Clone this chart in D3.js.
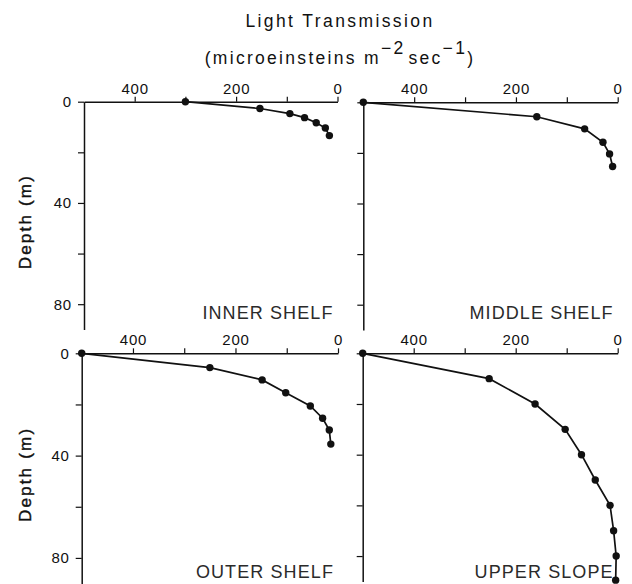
<!DOCTYPE html>
<html>
<head>
<meta charset="utf-8">
<script src="https://cdn.jsdelivr.net/npm/d3@7"></script>
<style>
  body { margin: 0; background: #fff; }
  svg { display: block; }
  text { font-family: "Liberation Sans", Arial, sans-serif; fill: #111; }
</style>
</head>
<body>
<svg id="chart" width="632" height="584"></svg>
<script>
// values: light (microeinsteins m-2 sec-1) vs depth (m)
const stations = ['INNER SHELF', 'MIDDLE SHELF', 'OUTER SHELF', 'UPPER SLOPE'];
const innerLight  = [300, 153, 94, 65, 42, 24, 16];
const innerDepth  = [0, 2.7, 4.7, 6.3, 8.3, 10.4, 13.4];
const middleLight = [500, 159, 65, 29, 16, 10];
const middleDepth = [0, 5.7, 10.5, 15.8, 20.4, 25.4];
const outerLight  = [500, 250, 148, 102, 54, 30, 17, 14];
const outerDepth  = [0, 5.6, 10.4, 15.4, 20.6, 25.4, 30, 35.5];
const slopeLight  = [500, 252, 162, 103, 71, 44, 15, 8, 3, 4];
const slopeDepth  = [0, 10, 20, 30, 40, 50, 60, 70, 80, 89.5];

const xTicks = [400, 300, 200, 100, 0];
const xLabels = [400, 200, 0];
const yTicks = [0, 20, 40, 60, 80];
const yLabels = [0, 40, 80];

const series = [
  [innerLight, innerDepth],
  [middleLight, middleDepth],
  [outerLight, outerDepth],
  [slopeLight, slopeDepth]
];

// panel frames in pixels
const frames = [
  { left: 84,    right: 337.5, top: 101.7, bottom: 329.5, yLab: true },
  { left: 363.3, right: 617.7, top: 102.3, bottom: 330,   yLab: false },
  { left: 81.7,  right: 338,   top: 353.3, bottom: 583.5, yLab: true },
  { left: 362.7, right: 617.7, top: 353.3, bottom: 581.4, yLab: false }
];

const svg = d3.select('#chart');

// title
svg.append('text')
  .attr('x', 340).attr('y', 27)
  .attr('text-anchor', 'middle')
  .style('font-size', '17.5px')
  .style('letter-spacing', '2.4px')
  .text('Light Transmission');

const sub = svg.append('text')
  .attr('x', 340).attr('y', 64)
  .attr('text-anchor', 'middle')
  .style('font-size', '17.5px')
  .style('letter-spacing', '2.3px');
sub.append('tspan').text('(microeinsteins m');
sub.append('tspan').attr('dy', -10).text('\u22122');
sub.append('tspan').attr('dy', 10).attr('dx', 3).text('sec');
sub.append('tspan').attr('dy', -10).text('\u22121');
sub.append('tspan').attr('dy', 10).text(')');

frames.forEach((f, i) => {
  const x = d3.scaleLinear().domain([500, 0]).range([f.left, f.right]);
  const y = d3.scaleLinear().domain([0, 90]).range([f.top, f.bottom]);

  const xAxis = svg.append('g')
    .attr('transform', `translate(0,${f.top})`)
    .call(d3.axisTop(x)
      .tickValues(xTicks)
      .tickSize(5)
      .tickSizeOuter(0)
      .tickPadding(3)
      .tickFormat(d => xLabels.includes(d) ? d : ''));

  const yAxis = svg.append('g')
    .attr('transform', `translate(${f.left},0)`)
    .call(d3.axisLeft(y)
      .tickValues(yTicks)
      .tickSize(6)
      .tickSizeOuter(0)
      .tickPadding(6)
      .tickFormat(d => f.yLab && yLabels.includes(d) ? d : ''));

  [xAxis, yAxis].forEach(a => {
    a.select('.domain').attr('stroke', '#111').attr('stroke-width', 1.5);
    a.selectAll('.tick line').attr('stroke', '#111').attr('stroke-width', 1.2);
    a.selectAll('.tick text')
      .attr('fill', '#111')
      .style('font-family', '"Liberation Sans", Arial, sans-serif')
      .style('font-size', '15px')
      .style('letter-spacing', '0.8px');
  });

  const [light, depth] = series[i];
  const pts = light.map((v, k) => [v, depth[k]]);

  svg.append('path')
    .datum(pts)
    .attr('fill', 'none')
    .attr('stroke', '#111')
    .attr('stroke-width', 1.7)
    .attr('d', d3.line().x(d => x(d[0])).y(d => y(d[1])));

  svg.append('g').selectAll('circle')
    .data(pts)
    .enter().append('circle')
    .attr('cx', d => x(d[0]))
    .attr('cy', d => y(d[1]))
    .attr('r', 3.7)
    .attr('fill', '#111');

  svg.append('text')
    .attr('x', f.right - 4).attr('y', i < 2 ? 319 : 578)
    .attr('text-anchor', 'end')
    .style('font-size', '18px')
    .style('letter-spacing', '1.1px')
    .style('fill', '#2a2a2a')
    .text(stations[i]);

  if (f.yLab) {
    const cy = (f.top + f.bottom) / 2 + 6;
    svg.append('text')
      .attr('transform', `translate(31,${cy}) rotate(-90)`)
      .attr('text-anchor', 'middle')
      .style('font-size', '17px')
      .style('letter-spacing', '2.2px')
      .style('stroke', '#111')
      .style('stroke-width', '0.4px')
      .text('Depth (m)');
  }
});
</script>
</body>
</html>
